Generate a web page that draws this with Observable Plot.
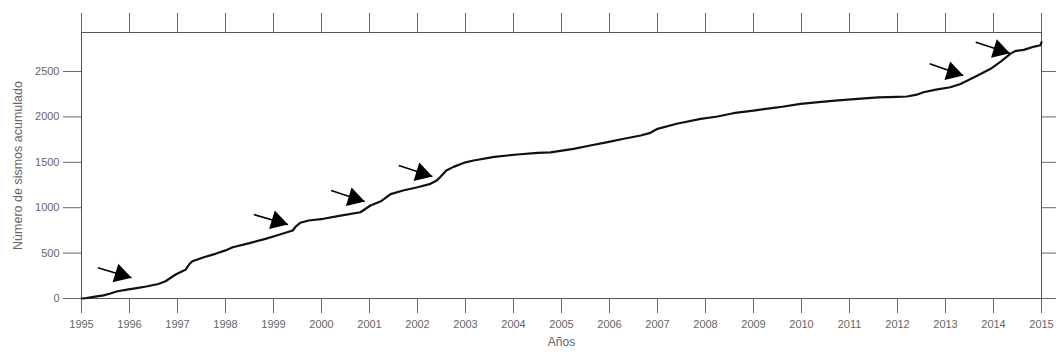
<!DOCTYPE html>
<html>
<head>
<meta charset="utf-8">
<script src="https://cdn.jsdelivr.net/npm/d3@7"></script>
<script src="https://cdn.jsdelivr.net/npm/@observablehq/plot@0.6"></script>
<style>
  html, body { margin: 0; padding: 0; background: #fff; }
</style>
</head>
<body>
<div id="chart"></div>
<script>
// Cumulative count of earthquakes over time (decimal year, running total)
const years = [
  1995.00, 1995.10, 1995.25, 1995.46, 1995.60, 1995.75, 1995.98, 1996.15, 1996.35, 1996.60,
  1996.75, 1996.96, 1997.10, 1997.17, 1997.25, 1997.31, 1997.55, 1997.79, 1998.00, 1998.15,
  1998.50, 1998.83, 1999.10, 1999.40, 1999.46, 1999.56, 1999.73, 2000.04, 2000.40, 2000.81,
  2001.02, 2001.25, 2001.44, 2001.70, 2002.00, 2002.27, 2002.40, 2002.48, 2002.60, 2002.75,
  2003.00, 2003.17, 2003.60, 2004.08, 2004.50, 2004.77, 2005.25, 2005.60, 2005.96, 2006.30,
  2006.65, 2006.85, 2007.00, 2007.40, 2007.90, 2008.25, 2008.58, 2009.00, 2009.42, 2009.60,
  2009.98, 2010.30, 2010.70, 2011.17, 2011.60, 2012.00, 2012.20, 2012.40, 2012.54, 2012.80,
  2013.10, 2013.30, 2013.46, 2013.70, 2013.94, 2014.15, 2014.35, 2014.45, 2014.63, 2014.85,
  2014.98, 2015.00
];
const cumulative = [
     0,    5,   18,   35,   55,   80,  100,  115,  132,  160,
   190,  264,  300,  318,  380,  411,  455,  492,  530,  565,
   610,  657,  700,  749,  790,  835,  859,  878,  912,  950,
  1024, 1075, 1150, 1190, 1225, 1263, 1300, 1340, 1410, 1450,
  1500, 1520, 1560, 1586, 1605, 1610, 1648, 1685, 1722, 1760,
  1795, 1825, 1869, 1925, 1979, 2005, 2041, 2070, 2100, 2112,
  2144, 2160, 2180, 2199, 2215, 2222, 2225, 2245, 2272, 2300,
  2327, 2360, 2401, 2465, 2530, 2610, 2695, 2725, 2739, 2775,
  2790, 2823
];

// Arrows marking episodes of increased activity (tail -> head)
const arrowFromYear  = [1995.34, 1998.59, 2000.20, 2001.61, 2012.67, 2013.63];
const arrowFromCount = [ 338,     925,    1189,    1465,    2585,    2823];
const arrowToYear    = [1996.04, 1999.30, 2000.90, 2002.31, 2013.37, 2014.34];
const arrowToCount   = [ 228,     815,    1068,    1344,    2456,    2701];

// Axis ticks and titles
const yearTicks  = d3.range(1995, 2016);
const countTicks = [0, 500, 1000, 1500, 2000, 2500];
const countMax   = 2930;
const xTitle = "Años";
const yTitle = "Número de sismos acumulado";

const series = years.map((t, i) => ({t, n: cumulative[i]}));
const arrows = arrowFromYear.map((_, i) => ({
  x1: arrowFromYear[i], y1: arrowFromCount[i],
  x2: arrowToYear[i],   y2: arrowToCount[i]
}));

const chart = Plot.plot({
  width: 1056,
  height: 352,
  marginLeft: 81,
  marginRight: 15,
  marginTop: 32,
  marginBottom: 54,
  style: {
    fontFamily: "'Liberation Sans', Arial, sans-serif",
    fontSize: "11px",
    color: "#666",
    background: "#fff",
    overflow: "visible"
  },
  x: {domain: [1995, 2015]},
  y: {domain: [0, countMax]},
  marks: [
    Plot.frame({stroke: "#555"}),
    Plot.axisX({
      anchor: "bottom", ticks: yearTicks, tickFormat: d => String(d),
      tickSize: 15, tickPadding: 7, label: null
    }),
    Plot.axisX({
      anchor: "top", ticks: yearTicks, tickSize: 20,
      tickFormat: () => "", label: null
    }),
    Plot.axisY({
      anchor: "left", ticks: countTicks, tickFormat: d => String(d),
      tickSize: 18, tickPadding: 4, label: null
    }),
    Plot.axisY({
      anchor: "right", ticks: countTicks, tickSize: 15,
      tickFormat: () => "", label: null
    }),
    // axis titles
    Plot.text([xTitle], {frameAnchor: "bottom", dy: 47, fontSize: 12, fill: "#666"}),
    Plot.text([yTitle], {
      frameAnchor: "left", textAnchor: "middle", dx: -64, rotate: -90,
      fontSize: 12.5, fill: "#666"
    }),
    Plot.line(series, {x: "t", y: "n", stroke: "#111", strokeWidth: 2.2}),
    Plot.link(arrows, {x1: "x1", y1: "y1", x2: "x2", y2: "y2", stroke: "#000", strokeWidth: 1.6}),
    Plot.dot(arrows, {
      x: "x2", y: "y2", symbol: "triangle", r: 7.2, fill: "#000", stroke: null,
      rotate: 107, dx: -10.6, dy: -3.2
    })
  ]
});

document.getElementById("chart").appendChild(chart);
</script>
</body>
</html>
